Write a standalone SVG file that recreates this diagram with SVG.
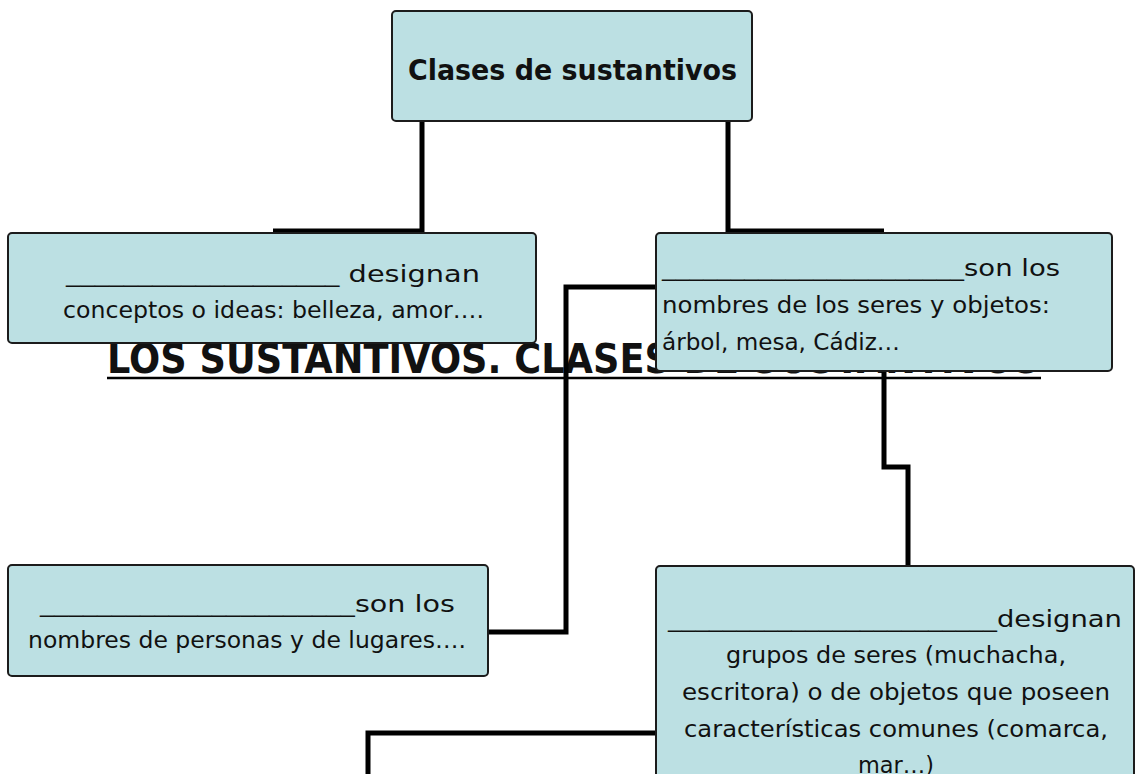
<svg xmlns="http://www.w3.org/2000/svg" width="1136" height="774" viewBox="0 0 1136 774">
<style>
.box{fill:#bce0e3;stroke:#1c1c1c;stroke-width:2}
.t{font-family:"DejaVu Sans","Liberation Sans",sans-serif;font-size:22.5px;fill:#111}
.b{font-family:"DejaVu Sans","Liberation Sans",sans-serif;font-weight:bold;fill:#111}
.c{fill:none;stroke:#000;stroke-width:5;stroke-linejoin:miter;stroke-linecap:butt}
</style>
<rect width="1136" height="774" fill="#fff"/>
<g id="title">
<text class="b" x="107" y="373" font-size="40" textLength="933" lengthAdjust="spacingAndGlyphs">LOS SUSTANTIVOS. CLASES DE SUSTANTIVOS</text>
<line x1="107" y1="378" x2="1041" y2="378" stroke="#000" stroke-width="2.5"/>
</g>
<g id="connectors">
<path class="c" d="M273,231 H422 V121"/>
<path class="c" d="M728,121 V231 H884"/>
<path class="c" d="M656,287 H566 V632 H488"/>
<path class="c" d="M884,371 V467 H908 V566"/>
<path class="c" d="M656,733 H368 V774"/>
</g>
<g id="n-root">
<rect class="box" x="392" y="11" width="360" height="110" rx="4"/>
<text class="b" x="408" y="80" font-size="28" textLength="329" lengthAdjust="spacingAndGlyphs">Clases de sustantivos</text>
</g>
<g id="n-abstractos">
<rect class="box" x="8" y="233" width="528" height="110" rx="4"/>
<text class="t" x="66" y="282" textLength="414" lengthAdjust="spacingAndGlyphs">___________________ designan</text>
<text class="t" x="63" y="318" textLength="421" lengthAdjust="spacingAndGlyphs">conceptos o ideas: belleza, amor….</text>
</g>
<g id="n-comunes">
<rect class="box" x="656" y="233" width="456" height="138" rx="4"/>
<text class="t" x="662" y="276" textLength="398" lengthAdjust="spacingAndGlyphs">______________________son los</text>
<text class="t" x="662" y="313" textLength="388" lengthAdjust="spacingAndGlyphs">nombres de los seres y objetos:</text>
<text class="t" x="662" y="350" textLength="238" lengthAdjust="spacingAndGlyphs">árbol, mesa, Cádiz…</text>
</g>
<g id="n-propios">
<rect class="box" x="8" y="565" width="480" height="111" rx="4"/>
<text class="t" x="40" y="612" textLength="415" lengthAdjust="spacingAndGlyphs">______________________son los</text>
<text class="t" x="28" y="648" textLength="438" lengthAdjust="spacingAndGlyphs">nombres de personas y de lugares….</text>
</g>
<g id="n-colectivos">
<rect class="box" x="656" y="566" width="478" height="240" rx="4"/>
<text class="t" x="668" y="627" textLength="454" lengthAdjust="spacingAndGlyphs">________________________designan</text>
<text class="t" x="726" y="663" textLength="340" lengthAdjust="spacingAndGlyphs">grupos de seres (muchacha,</text>
<text class="t" x="682" y="700" textLength="428" lengthAdjust="spacingAndGlyphs">escritora) o de objetos que poseen</text>
<text class="t" x="684" y="737" textLength="424" lengthAdjust="spacingAndGlyphs">características comunes (comarca,</text>
<text class="t" x="858" y="773" textLength="76" lengthAdjust="spacingAndGlyphs">mar…)</text>
</g>
</svg>
